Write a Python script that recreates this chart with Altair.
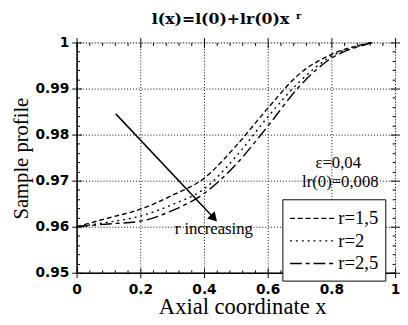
import altair as alt
import pandas as pd

# ---------------- data ----------------
x_vals = [0.0, 0.1, 0.2, 0.3, 0.4, 0.5, 0.6, 0.7, 0.8, 0.9, 0.93]
r15 = [0.9600, 0.9619, 0.9638, 0.9668, 0.9705, 0.9775, 0.9857, 0.9932, 0.9974, 0.9996, 1.0000]
r20 = [0.9600, 0.9610, 0.9623, 0.9648, 0.9682, 0.9752, 0.9838, 0.9915, 0.9970, 0.9995, 1.0000]
r25 = [0.9600, 0.9606, 0.9612, 0.9635, 0.9672, 0.9735, 0.9818, 0.9905, 0.9966, 0.9994, 1.0000]
series = ["r=1,5", "r=2", "r=2,5"]
dashes = [[5, 3], [2, 4], [12, 4, 4, 4]]

x_major = [0, 0.2, 0.4, 0.6, 0.8, 1.0]
y_major = [0.95, 0.96, 0.97, 0.98, 0.99, 1.0]
x_minor = [0.04, 0.08, 0.12, 0.16, 0.24, 0.28, 0.32, 0.36, 0.44, 0.48, 0.52, 0.56,
           0.64, 0.68, 0.72, 0.76, 0.84, 0.88, 0.92, 0.96]
y_minor = [0.952, 0.954, 0.956, 0.958, 0.962, 0.964, 0.966, 0.968, 0.972, 0.974, 0.976, 0.978,
           0.982, 0.984, 0.986, 0.988, 0.992, 0.994, 0.996, 0.998]

arrow_x = [0.123, 0.428]
arrow_y = [0.9845, 0.9621]

ann_text = ["r increasing", "\u03b5=0,04", "lr(0)=0,008"]
ann_x = [0.308, 0.75, 0.708]
ann_y = [0.9585, 0.9728, 0.9687]

title_text = ["l(x)=l(0)+lr(0)x"]
title_x = [0.452]
title_y = [1.0040]
sup_text = ["r"]
sup_x = [0.697]
sup_y = [1.0050]

# ---------------- frames ----------------
rows = []
for name, vals in zip(series, [r15, r20, r25]):
    for xv, yv in zip(x_vals, vals):
        rows.append({"x": xv, "y": yv, "r": name})
df = pd.DataFrame(rows)
arrow_df = pd.DataFrame({"x": arrow_x, "y": arrow_y})
head_df = arrow_df.iloc[[1]]
ann_df = pd.DataFrame({"t": ann_text, "x": ann_x, "y": ann_y})
title_df = pd.DataFrame({"t": title_text, "x": title_x, "y": title_y})
sup_df = pd.DataFrame({"t": sup_text, "x": sup_x, "y": sup_y})

xs = alt.Scale(domain=[0, 1], nice=False, zero=False)
ys = alt.Scale(domain=[0.95, 1], nice=False, zero=False)

LABEL_FONT = "DejaVu Sans"
SERIF = "Liberation Serif"

main_x_axis = alt.Axis(
    orient="bottom", values=x_major, format="~g", title="Axial coordinate x",
    grid=True, gridColor="black", gridDash=[1, 2], gridWidth=1, gridOpacity=1,
    tickSize=5, tickColor="black", tickWidth=1,
    domain=True, domainColor="black", domainWidth=1.5,
    labelFont=LABEL_FONT, labelFontWeight="bold", labelFontSize=14, labelColor="black",
    labelPadding=5, labelFlush=False,
    titleFont=SERIF, titleFontSize=23, titleFontWeight="normal", titleColor="black",
    titleX=169, titleY=42, titleBaseline="alphabetic", titleAlign="center",
)
main_y_axis = alt.Axis(
    orient="left", values=y_major, format="~g", title="Sample profile",
    grid=True, gridColor="black", gridDash=[1, 2], gridWidth=1, gridOpacity=1,
    tickSize=5, tickColor="black", tickWidth=1,
    domain=True, domainColor="black", domainWidth=1.5,
    labelFont=LABEL_FONT, labelFontWeight="bold", labelFontSize=14, labelColor="black",
    labelPadding=3, labelFlush=False,
    titleFont=SERIF, titleFontSize=21, titleFontWeight="normal", titleColor="black",
    titleX=-46, titleY=118, titleBaseline="bottom", titleAngle=270, titleAlign="center",
)


def tick_axis(orient, values, size, offset):
    return alt.Axis(orient=orient, values=values, labels=False, domain=False, grid=False,
                    title=None, ticks=True, tickSize=size, tickColor="black",
                    tickWidth=1, offset=offset)


curves = alt.Chart(df).mark_line(color="black", strokeWidth=1.4, interpolate="monotone").encode(
    x=alt.X("x:Q", scale=xs, axis=main_x_axis),
    y=alt.Y("y:Q", scale=ys, axis=main_y_axis),
    strokeDash=alt.StrokeDash(
        "r:N",
        scale=alt.Scale(domain=series, range=dashes),
        legend=alt.Legend(
            title=None, orient="none", legendX=210, legendY=160,
            strokeColor="black", fillColor="white", padding=7, cornerRadius=0,
            symbolType="M-1,0L3,0", symbolSize=552, symbolStrokeWidth=1.4,
            symbolStrokeColor="black", rowPadding=-3, labelOffset=25,
            labelFont=SERIF, labelFontSize=19, labelColor="black",
        ),
    ),
)


def tick_layer(xaxis, yaxis):
    return alt.Chart(df).mark_point(opacity=0, size=1).encode(
        x=alt.X("x:Q", scale=xs, axis=xaxis),
        y=alt.Y("y:Q", scale=ys, axis=yaxis),
    )


t_outer = tick_layer(tick_axis("top", x_major, 5, 0), tick_axis("right", y_major, 5, 0))
t_in_bl = tick_layer(tick_axis("bottom", x_major, 5, -5), tick_axis("left", y_major, 5, -5))
t_in_tr = tick_layer(tick_axis("top", x_major, 5, -5), tick_axis("right", y_major, 5, -5))
t_min_bl = tick_layer(tick_axis("bottom", x_minor, 3, -3), tick_axis("left", y_minor, 3, -3))
t_min_tr = tick_layer(tick_axis("top", x_minor, 3, -3), tick_axis("right", y_minor, 3, -3))

arrow = alt.Chart(arrow_df).mark_line(color="black", strokeWidth=1.5).encode(
    x=alt.X("x:Q", scale=xs, axis=None), y=alt.Y("y:Q", scale=ys, axis=None))
head = alt.Chart(head_df).mark_point(shape="triangle", filled=True, color="black", opacity=1,
                                     size=110, angle=137).encode(
    x=alt.X("x:Q", scale=xs, axis=None), y=alt.Y("y:Q", scale=ys, axis=None))

ann = alt.Chart(ann_df).mark_text(align="left", baseline="alphabetic", font=SERIF,
                                  fontSize=17, color="black").encode(
    x=alt.X("x:Q", scale=xs, axis=None), y=alt.Y("y:Q", scale=ys, axis=None), text="t:N")

ttl = alt.Chart(title_df).mark_text(align="center", baseline="alphabetic", font="DejaVu Serif",
                                    fontWeight="bold", fontSize=16, color="black").encode(
    x=alt.X("x:Q", scale=xs, axis=None), y=alt.Y("y:Q", scale=ys, axis=None), text="t:N")
sup = alt.Chart(sup_df).mark_text(align="center", baseline="alphabetic", font="DejaVu Serif",
                                  fontWeight="bold", fontSize=10, color="black").encode(
    x=alt.X("x:Q", scale=xs, axis=None), y=alt.Y("y:Q", scale=ys, axis=None), text="t:N")

chart = alt.layer(
    curves, t_outer, t_in_bl, t_in_tr, t_min_bl, t_min_tr, arrow, head, ann, ttl, sup
).resolve_axis(x="independent", y="independent").properties(
    width=325, height=235,
    autosize=alt.AutoSizeParams(type="none"),
    padding={"left": 70, "top": 32, "right": 5, "bottom": 45},
).configure_view(stroke="black", strokeWidth=1.5).configure(background="white")

chart.save("out.html", embed_options={"renderer": "svg", "actions": False})
